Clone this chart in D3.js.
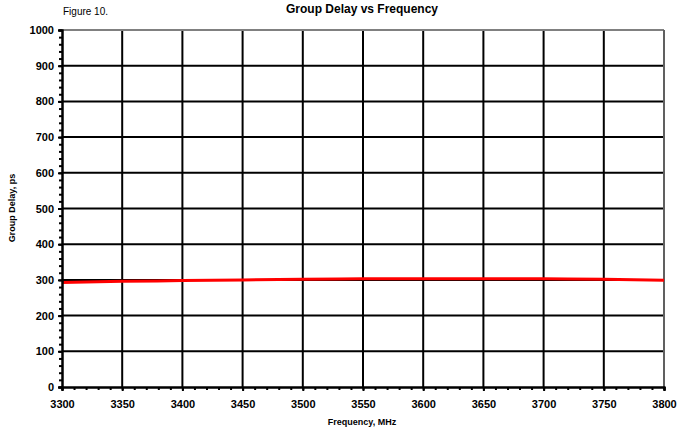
<!DOCTYPE html>
<html>
<head>
<meta charset="utf-8">
<script src="https://cdn.jsdelivr.net/npm/d3@7"></script>
<style>
  body { margin: 0; background: #fff; }
  text { font-family: "Liberation Sans", Arial, sans-serif; }
</style>
</head>
<body>
<div id="chart"></div>
<script>
// data
const freq = [3300, 3350, 3400, 3450, 3500, 3550, 3600, 3650, 3700, 3750, 3800];
const delay = [293, 296, 298, 300, 302, 303, 303.5, 303.5, 303, 302, 299];
const xTicks = d3.range(3300, 3801, 50);
const yTicks = d3.range(0, 1001, 100);

const width = 679, height = 433;
const m = {left: 62, right: 15, top: 30, bottom: 46};

const svg = d3.select("#chart").append("svg")
  .attr("width", width)
  .attr("height", height);

const x = d3.scaleLinear().domain([3300, 3800]).range([m.left, width - m.right]);
const y = d3.scaleLinear().domain([0, 1000]).range([height - m.bottom, m.top]);

// grid
svg.append("g").selectAll("line")
  .data(xTicks.slice(1, -1))
  .enter().append("line")
  .attr("x1", d => x(d)).attr("x2", d => x(d))
  .attr("y1", y(0)).attr("y2", y(1000))
  .attr("stroke", "#000").attr("stroke-width", 2);

svg.append("g").selectAll("line")
  .data(yTicks.slice(1, -1))
  .enter().append("line")
  .attr("x1", x(3300)).attr("x2", x(3800))
  .attr("y1", d => y(d)).attr("y2", d => y(d))
  .attr("stroke", "#000").attr("stroke-width", 2);

// top / right frame in grey
svg.append("line")
  .attr("x1", x(3300)).attr("x2", x(3800))
  .attr("y1", y(1000)).attr("y2", y(1000))
  .attr("stroke", "#808080").attr("stroke-width", 2);
svg.append("line")
  .attr("x1", x(3800)).attr("x2", x(3800))
  .attr("y1", y(0)).attr("y2", y(1000))
  .attr("stroke", "#606060").attr("stroke-width", 2);

// data line
svg.append("path")
  .datum(freq.map((f, i) => [f, delay[i]]))
  .attr("fill", "none")
  .attr("stroke", "#ff0000")
  .attr("stroke-width", 3)
  .attr("d", d3.line().x(d => x(d[0])).y(d => y(d[1])).curve(d3.curveMonotoneX));

// axes
const yAxis = svg.append("g")
  .attr("transform", `translate(${x(3300)},0)`)
  .call(d3.axisLeft(y).tickValues(yTicks).tickFormat(d3.format("d")).tickSize(4).tickPadding(4));
const yMinor = svg.append("g")
  .attr("transform", `translate(${x(3300)},0)`)
  .call(d3.axisLeft(y).tickValues(d3.range(0, 1001, 20)).tickSize(3).tickFormat(""));

const xAxis = svg.append("g")
  .attr("transform", `translate(0,${y(0)})`)
  .call(d3.axisBottom(x).tickValues(xTicks).tickFormat(d3.format("d")).tickSize(4).tickPadding(9));
const xMinor = svg.append("g")
  .attr("transform", `translate(0,${y(0)})`)
  .call(d3.axisBottom(x).tickValues(d3.range(3300, 3801, 10)).tickSize(3).tickFormat(""));

[yAxis, yMinor, xAxis, xMinor].forEach(g => {
  g.select(".domain").attr("stroke", "#000").attr("stroke-width", 2);
  g.selectAll(".tick line").attr("stroke", "#000").attr("stroke-width", 2);
  g.selectAll("text")
    .attr("fill", "#000")
    .style("font-family", "'Liberation Sans', Arial, sans-serif")
    .style("font-size", "11px")
    .style("font-weight", "bold");
});

// titles
svg.append("text")
  .attr("x", 362).attr("y", 13)
  .attr("text-anchor", "middle")
  .style("font-size", "12px").style("font-weight", "bold")
  .text("Group Delay vs Frequency");

svg.append("text")
  .attr("x", 63).attr("y", 15)
  .style("font-size", "10px")
  .text("Figure 10.");

svg.append("text")
  .attr("x", 362).attr("y", 425)
  .attr("text-anchor", "middle")
  .style("font-size", "9px").style("font-weight", "bold")
  .text("Frequency, MHz");

svg.append("text")
  .attr("transform", "translate(15,208) rotate(-90)")
  .attr("text-anchor", "middle")
  .style("font-size", "9px").style("font-weight", "bold")
  .text("Group Delay, ps");
</script>
</body>
</html>
